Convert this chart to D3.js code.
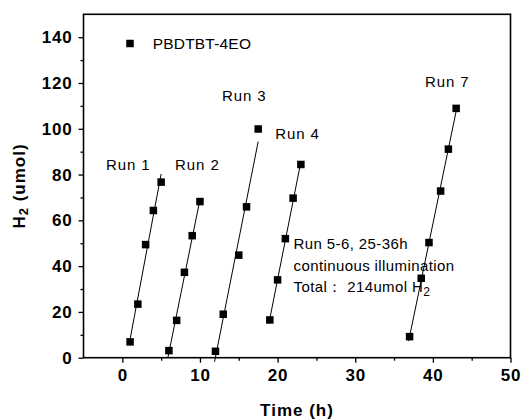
<!DOCTYPE html>
<html>
<head>
<meta charset="utf-8">
<script src="https://cdn.jsdelivr.net/npm/d3@7"></script>
<style>
  html, body { margin: 0; padding: 0; background: #fff; }
  svg { display: block; }
  text { font-family: "Liberation Sans", Arial, sans-serif; fill: #000; }
</style>
</head>
<body>
<svg id="chart" width="521" height="419"></svg>
<script>
// ---- data ----
const run1X = [1, 2, 3, 4, 5];
const run1Y = [6.9, 23.4, 49.4, 64.3, 76.7];
const run2X = [6, 7, 8, 9, 10];
const run2Y = [3.1, 16.3, 37.3, 53.3, 68.2];
const run3X = [12, 13, 15, 16, 17.5];
const run3Y = [2.8, 19.0, 44.8, 65.9, 99.9];
const run4X = [19, 20, 21, 22, 23];
const run4Y = [16.5, 34.0, 52.0, 69.7, 84.4];
const run7X = [37, 38.5, 39.5, 41, 42, 43];
const run7Y = [9.2, 34.7, 50.3, 72.8, 91.1, 108.9];

const runNames = ["Run 1", "Run 2", "Run 3", "Run 4", "Run 7"];
const xTicks = [0, 10, 20, 30, 40, 50];
const xMinorTicks = [5, 15, 25, 35, 45];
const yTicks = [0, 20, 40, 60, 80, 100, 120, 140];
const yMinorTicks = [10, 30, 50, 70, 90, 110, 130];
const seriesName = "PBDTBT-4EO";

// ---- layout ----
const svg = d3.select("#chart");
const L = 83.5, R = 510.5, T = 14.3, B = 357.7;
const x = d3.scaleLinear().domain([-5, 50]).range([L, R]);
const y = d3.scaleLinear().domain([0, 150]).range([B, T]);

const runs = [
  {name: runNames[0], xs: run1X, ys: run1Y, lx: -2.1, ly: 82},
  {name: runNames[1], xs: run2X, ys: run2Y, lx: 6.8, ly: 81.8},
  {name: runNames[2], xs: run3X, ys: run3Y, lx: 12.85, ly: 112.1},
  {name: runNames[3], xs: run4X, ys: run4Y, lx: 19.7, ly: 95.4},
  {name: runNames[4], xs: run7X, ys: run7Y, lx: 38.98, ly: 118.1}
];

// ---- axes ----
const xAxis = svg.append("g").attr("transform", `translate(0,${B})`)
  .call(d3.axisBottom(x).tickValues(xTicks).tickSize(5).tickPadding(6).tickFormat(d3.format("d")));
const xMinor = svg.append("g").attr("transform", `translate(0,${B})`)
  .call(d3.axisBottom(x).tickValues(xMinorTicks).tickSize(3).tickFormat(""));
const yAxis = svg.append("g").attr("transform", `translate(${L},0)`)
  .call(d3.axisLeft(y).tickValues(yTicks).tickSize(5).tickPadding(6).tickFormat(d3.format("d")));
const yMinor = svg.append("g").attr("transform", `translate(${L},0)`)
  .call(d3.axisLeft(y).tickValues(yMinorTicks).tickSize(3).tickFormat(""));

[xAxis, xMinor, yAxis, yMinor].forEach(g => {
  g.select(".domain").remove();
  g.selectAll(".tick line").attr("stroke", "#000").attr("stroke-width", 1.3);
  g.selectAll("text").attr("font-size", 17).attr("font-weight", "bold")
    .attr("letter-spacing", "0.8px").attr("fill", "#000");
});

// frame
svg.append("rect").attr("x", L).attr("y", T).attr("width", R - L).attr("height", B - T)
  .attr("fill", "none").attr("stroke", "#000").attr("stroke-width", 1.6);

// axis titles
svg.append("text").attr("x", (L + R) / 2).attr("y", 415.5).attr("text-anchor", "middle")
  .attr("font-size", 17).attr("font-weight", "bold").attr("letter-spacing", "1px")
  .text("Time (h)");
const yt = svg.append("text").attr("transform", `translate(25,${(T + B) / 2}) rotate(-90)`)
  .attr("text-anchor", "middle").attr("font-size", 17).attr("font-weight", "bold")
  .attr("letter-spacing", "1px");
yt.append("tspan").text("H");
yt.append("tspan").attr("font-size", 13).attr("dy", 3).text("2");
yt.append("tspan").attr("dy", -3).text(" (umol)");

// ---- annotation text ----
const ann = svg.append("g").attr("font-size", 15);
ann.append("text").attr("x", 293.5).attr("y", 248.5).attr("letter-spacing", "0.4px").text("Run 5-6, 25-36h");
ann.append("text").attr("x", 293.5).attr("y", 270.5).attr("letter-spacing", "0.4px").text("continuous illumination");
const tot = ann.append("text").attr("x", 293.5).attr("y", 292).attr("letter-spacing", "0.4px");
tot.append("tspan").text("Total\uFF1A  214umol H");
tot.append("tspan").attr("font-size", 12).attr("dy", 4).text("2");

// ---- fit lines (least squares per run) ----
function fit(xs, ys) {
  const mx = d3.mean(xs), my = d3.mean(ys);
  const sxy = d3.sum(xs, (v, i) => (v - mx) * (ys[i] - my));
  const sxx = d3.sum(xs, v => (v - mx) * (v - mx));
  const b = sxy / sxx;
  return v => my + b * (v - mx);
}
const line = d3.line().x(d => x(d[0])).y(d => y(d[1]));
runs.forEach(r => {
  const f = fit(r.xs, r.ys);
  const x0 = d3.min(r.xs) - 0.12, x1 = d3.max(r.xs);
  svg.append("path").attr("d", line([[x0, f(x0)], [x1, f(x1)]]))
    .attr("fill", "none").attr("stroke", "#000").attr("stroke-width", 1);
});

// ---- markers ----
const ms = 7.5;
runs.forEach(r => {
  svg.append("g").selectAll("rect").data(r.xs.map((v, i) => [v, r.ys[i]])).join("rect")
    .attr("x", d => x(d[0]) - ms / 2).attr("y", d => y(d[1]) - ms / 2)
    .attr("width", ms).attr("height", ms).attr("fill", "#000");
});

// run labels
svg.append("g").selectAll("text").data(runs).join("text")
  .attr("x", d => x(d.lx)).attr("y", d => y(d.ly))
  .attr("font-size", 15).attr("letter-spacing", "0.9px").text(d => d.name);

// legend
svg.append("rect").attr("x", 130 - ms / 2).attr("y", 43.5 - ms / 2).attr("width", ms).attr("height", ms).attr("fill", "#000");
svg.append("text").attr("x", 152.7).attr("y", 49).attr("font-size", 15.5).attr("letter-spacing", "0.2px").text(seriesName);
</script>
</body>
</html>
